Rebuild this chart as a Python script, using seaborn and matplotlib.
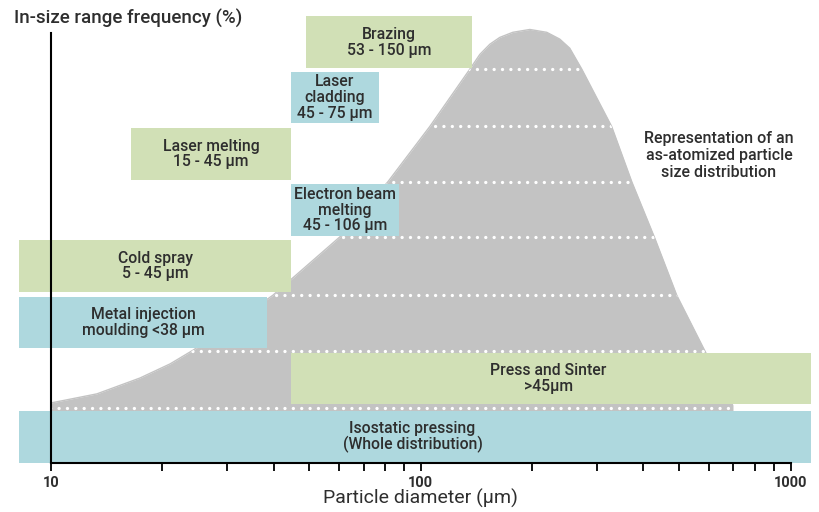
import numpy as np
import pandas as pd
import matplotlib
matplotlib.use('Agg')
import matplotlib.pyplot as plt
import seaborn as sns

# as-atomized particle size distribution (diameter in um, height in row units)
curve_d = [10.0, 13.3, 17.4, 21.0, 24.2, 30.5, 39.8, 60.4, 81.4, 105.8, 135.7, 144.4,
           153.7, 163.5, 177.3, 197.1, 219.0, 237.5, 252.7, 272.4, 328.0, 372.0,
           429.0, 492.0, 586.0, 643.0, 697.0, 697.0]
curve_h = [1.06, 1.22, 1.50, 1.75, 1.99, 2.43, 2.96, 3.99, 4.96, 5.94, 6.95, 7.21,
           7.39, 7.51, 7.60, 7.65, 7.60, 7.48, 7.32, 6.95, 5.94, 4.96,
           3.97, 2.96, 1.98, 1.46, 1.02, 0.0]

# process windows
proc_names = ['Isostatic pressing\n(Whole distribution)', 'Press and Sinter\n>45µm',
              'Metal injection\nmoulding <38 µm', 'Cold spray\n5 - 45 µm',
              'Electron beam\nmelting\n45 - 106 µm', 'Laser melting\n15 - 45 µm',
              'Laser\ncladding\n45 - 75 µm', 'Brazing\n53 - 150 µm']
proc_lo = [8.19, 44.6, 8.19, 8.19, 44.6, 16.45, 44.6, 48.9]
proc_hi = [1133, 1133, 38.4, 44.6, 87.1, 44.6, 76.9, 137.5]
proc_bottom = [0.0, 1.04, 2.03, 3.02, 4.0, 4.99, 6.0, 6.97]
proc_top = [0.917, 1.94, 2.93, 3.93, 4.92, 5.91, 6.9, 7.88]
proc_kind = ['blue', 'green', 'blue', 'green', 'blue', 'green', 'blue', 'green']

dot_rows = [0.97, 1.98, 2.96, 3.99, 4.96, 5.94, 6.95]

tick_major = [10, 100, 1000]
tick_minor = [20, 30, 40, 50, 60, 70, 80, 90, 200, 300, 400, 500, 600, 700, 800, 900]

colors = {'blue': '#aed8de', 'green': '#d1e0b6'}
gray = '#c3c3c3'
txt = '#2e2e2e'

sns.set_theme(style='white')
plt.rcParams['font.family'] = ['Roboto', 'DejaVu Sans']

fig = plt.figure(figsize=(8.19, 5.12), dpi=100)
ax = fig.add_axes([0, 0, 1, 1])
ax.set_xscale('log')
ax.set_xlim(7.28, 1193)
ax.set_ylim(-0.864, 8.17)

df = pd.DataFrame({'d': curve_d, 'h': curve_h})
sns.lineplot(data=df, x='d', y='h', sort=False, estimator=None, color=gray, lw=1, ax=ax, zorder=1)
fill = ax.fill_between(df['d'], 0, df['h'], color=gray, lw=0, zorder=1)

dots = ax.hlines(dot_rows, 7.28, 1193, colors='white', lw=2.4,
                 linestyles=[(0, (0.01, 2.5))], zorder=1.2)
dots.set_capstyle('round')
dots.set_clip_path(fill.get_paths()[0], ax.transData)

for name, lo, hi, b, t, k in zip(proc_names, proc_lo, proc_hi, proc_bottom, proc_top, proc_kind):
    ax.fill_between([lo, hi], b, t, color=colors[k], lw=0, zorder=1.5)
    xc = np.sqrt(lo * min(hi, 1100))
    ax.text(xc, (b + t) / 2, name, ha='center', va='center', fontsize=11.3,
            fontweight='medium', color=txt, linespacing=1.05, zorder=3)

ax.text(640, 5.43, 'Representation of an\nas-atomized particle\nsize distribution',
        ha='center', va='center', fontsize=11.5, fontweight='medium', color=txt,
        linespacing=1.15)
ax.text(100, -0.62, 'Particle diameter (µm)', ha='center', va='center', fontsize=14,
        color=txt)
fig.text(14 / 819, 1 - 18 / 512, 'In-size range frequency (%)', ha='left', va='center',
         fontsize=13.5, fontweight='medium', color=txt)

for s in ['top', 'right']:
    ax.spines[s].set_visible(False)
ax.spines['left'].set_position(('data', 10))
ax.spines['left'].set_bounds(0, 7.58)
ax.spines['bottom'].set_position(('data', 0))
ax.spines['bottom'].set_bounds(10, 1000)
for s in ['left', 'bottom']:
    ax.spines[s].set_color('black')
    ax.spines[s].set_linewidth(1.5)
    ax.spines[s].set_zorder(4)

ax.set_xticks(tick_major)
ax.set_xticklabels([str(v) for v in tick_major], fontweight='bold', fontsize=10.5, color=txt)
ax.set_xticks(tick_minor, minor=True)
ax.tick_params(axis='x', which='both', direction='out', length=5.5, width=1.3,
               color='black', bottom=True, pad=4)
ax.set_yticks([])
ax.set_xlabel('')
ax.set_ylabel('')

fig.savefig('out.png', dpi=100)
